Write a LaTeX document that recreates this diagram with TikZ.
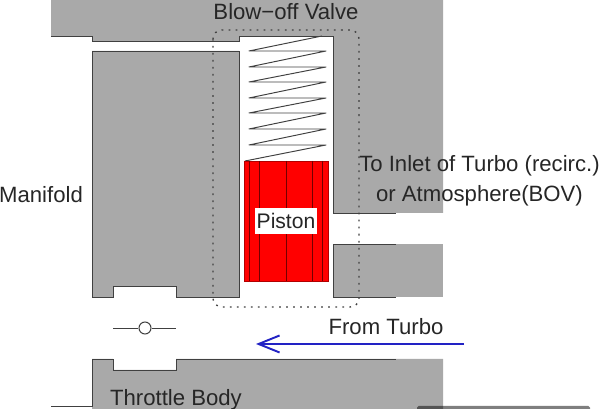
\documentclass[tikz,border=0pt]{standalone}
\usepackage{fontspec}
\setmainfont{Liberation Sans}
\usetikzlibrary{arrows.meta, positioning, calc}
\definecolor{bodygray}{HTML}{A9A9A9}
\definecolor{wallgray}{HTML}{404040}
\definecolor{flowblue}{HTML}{2222C4}
\tikzset{
  body/.style={fill=bodygray},
  wall/.style={draw=wallgray, line width=0.55pt},
  caption/.style={font=\fontsize{12.6pt}{17pt}\selectfont, text=black!85, inner sep=0pt}
}

\begin{document}
\begin{tikzpicture}
      \useasboundingbox (0,0) rectangle (12,8.18);

      % Top housing, with the spring bore cut out
      \fill[body] (1.02,8.18) -- (1.02,7.46) -- (1.84,7.46) -- (1.84,7.36) -- (4.78,7.36) -- (4.78,7.46)
        -- (6.66,7.46) -- (6.66,3.92) -- (8.86,3.92) -- (8.86,8.18) -- cycle;
      \draw[wall] (1.02,7.46) -- (1.84,7.46) -- (1.84,7.36) -- (4.78,7.36) -- (4.78,7.46)
        -- (6.66,7.46) -- (6.66,3.92) -- (7.92,3.92);

      % Manifold block
      \draw[body, wall] (1.84,7.16) -- (4.78,7.16) -- (4.78,2.24) -- (3.52,2.24) -- (3.52,2.46)
        -- (2.26,2.46) -- (2.26,2.24) -- (1.84,2.24) -- cycle;

      % Side port, lower wall
      \fill[body] (6.66,3.30) rectangle (8.86,2.24);
      \draw[wall] (7.92,3.30) -- (6.66,3.30) -- (6.66,2.24) -- (7.92,2.24);

      % Throttle body
      \fill[body] (1.84,0) -- (1.84,1.00) -- (2.26,1.00) -- (2.26,0.78) -- (3.52,0.78) -- (3.52,1.00)
        -- (8.86,1.00) -- (8.86,0) -- cycle;
      \draw[wall] (1.02,0.06) -- (1.84,0.06) -- (1.84,1.00) -- (2.26,1.00) -- (2.26,0.78) -- (3.52,0.78)
        -- (3.52,1.00) -- (7.92,1.00);

      % Bar along the lower edge
      \fill[black, opacity=0.5, rounded corners=1pt] (8.34,-0.1) rectangle (11.8,0.06);

      % Spring
      \draw[wall, line join=round] (6.44,7.46) -- (4.98,7.16) -- (6.52,7.16)
        \foreach \y in {6.84,6.54,6.22,5.92,5.60,5.28} {-- (4.98,\y) -- (6.52,\y)} -- (4.90,4.96);

      % Piston
      \draw[wall, draw=red!70!black, fill=red] (4.88,4.96) rectangle (6.56,2.56);
      \foreach \x in {4.98,5.19,5.72,6.25,6.45}
        \draw[wall, draw=red!45!black] (\x,4.96) -- (\x,2.56);
      \node[caption, font=\fontsize{12pt}{17pt}\selectfont, fill=white, minimum width=1.24cm, minimum height=0.52cm] (piston) at (5.72,3.76) {Piston};

      % Dotted outline of the valve
      \draw[wallgray, line width=0.8pt, dash pattern=on 1pt off 3pt, rounded corners=5pt]
        (4.26,7.58) rectangle (7.18,2.04);

      % Throttle plate
      \node[circle, draw=wallgray, fill=white, line width=0.6pt, minimum size=0.24cm, inner sep=0pt] (plate) at (2.90,1.62) {};
      \coordinate (plateleft) at (2.26,1.62);
      \coordinate (plateright) at (3.52,1.62);
      \draw[wallgray, line width=0.5pt] (plateleft) -- (plate);
      \draw[wallgray, line width=0.5pt] (plate) -- (plateright);

      % Flow from the turbo
      \coordinate (turbostart) at (9.28,1.30);
      \coordinate (turboend) at (5.12,1.30);
      \draw[flowblue, line width=1.1pt, -{Straight Barb[length=0.42cm, width=0.34cm]}] (turbostart) -- (turboend);

      % Labels
      \node[caption] (valve) at (5.72,7.94) {Blow−off Valve};
      \node[caption] (manifold) at (0.82,4.28) {Manifold};
      \node[caption, align=center] (outlet) at (9.59,4.56) {To Inlet of Turbo (recirc.)\\or Atmosphere(BOV)};
      \node[caption] (turbo) at (7.72,1.65) {From Turbo};
      \node[caption] (throttle) at (3.52,0.18) {Throttle Body};
\end{tikzpicture}
\end{document}
